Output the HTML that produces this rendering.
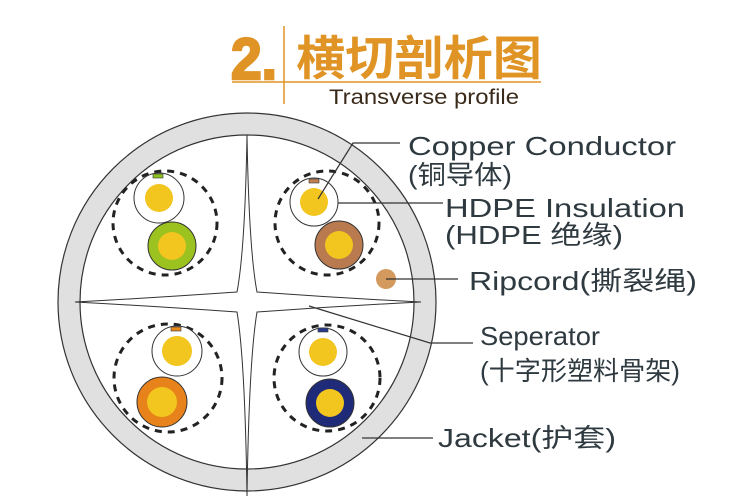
<!DOCTYPE html>
<html><head><meta charset="utf-8"><style>
html,body{margin:0;padding:0;background:#fff;}
svg{display:block;}
</style></head><body>
<svg width="738" height="504" viewBox="0 0 738 504" xmlns="http://www.w3.org/2000/svg">
<!-- title -->
<text x="231" y="79" font-family="Liberation Sans, sans-serif" font-weight="bold" font-size="58" fill="#e09426" stroke="#e09426" stroke-width="2.5" textLength="46" lengthAdjust="spacingAndGlyphs">2.</text>
<line x1="284" y1="26" x2="284" y2="104" stroke="#e09426" stroke-width="1.5"/>
<line x1="232" y1="82" x2="541" y2="82" stroke="#e09426" stroke-width="1.5"/>
<text x="296" y="75" font-family="Liberation Sans, 'Noto Sans CJK SC', sans-serif" font-weight="bold" font-size="47" fill="#e09426" textLength="246" lengthAdjust="spacingAndGlyphs">横切剖析图</text>
<text x="329" y="104" font-family="Liberation Sans, sans-serif" font-size="21" fill="#3a2a1a" textLength="190" lengthAdjust="spacingAndGlyphs">Transverse profile</text>

<!-- cable -->
<circle cx="247" cy="302" r="189" fill="#e0e0e0" stroke="#333" stroke-width="1.2"/>
<circle cx="247" cy="302" r="167" fill="#fff" stroke="#333" stroke-width="1.2"/>
<path d="M247,135 Q249,250 257,292 Q340,298 421,302 Q340,306 257,312 Q249,360 247,496 Q245,360 237,312 Q150,306 75,302 Q150,298 237,292 Q245,250 247,135 Z" fill="#fff" stroke="#333" stroke-width="1"/>

<!-- dashed shields -->
<g fill="none" stroke="#222" stroke-width="3" stroke-dasharray="7,6">
<circle cx="165" cy="223" r="52"/>
<circle cx="327" cy="223" r="52"/>
<circle cx="168" cy="378" r="54"/>
<circle cx="327" cy="378" r="53"/>
</g>

<!-- TL pair -->
<circle cx="159" cy="198" r="25" fill="#fff" stroke="#333"/>
<circle cx="159" cy="198" r="14" fill="#f2c51f"/>
<rect x="153" y="174" width="10" height="4" fill="#8dc21f" stroke="#333" stroke-width="0.6"/>
<circle cx="172" cy="246" r="24" fill="#9bc21f" stroke="#333"/>
<circle cx="172" cy="246" r="14" fill="#f2c51f"/>
<!-- TR pair -->
<circle cx="314" cy="202" r="24" fill="#fff" stroke="#333"/>
<circle cx="314" cy="202" r="14" fill="#f2c51f"/>
<rect x="309" y="179" width="10" height="4" fill="#c08050" stroke="#333" stroke-width="0.6"/>
<circle cx="339" cy="245" r="24" fill="#b87a4e" stroke="#333"/>
<circle cx="339" cy="245" r="14" fill="#f2c51f"/>
<!-- BL pair -->
<circle cx="177" cy="351" r="25" fill="#fff" stroke="#333"/>
<circle cx="177" cy="351" r="15" fill="#f2c51f"/>
<rect x="171" y="327" width="10" height="4" fill="#e8891a" stroke="#333" stroke-width="0.6"/>
<circle cx="162" cy="402" r="25" fill="#e8821a" stroke="#333"/>
<circle cx="162" cy="402" r="15" fill="#f2c51f"/>
<!-- BR pair -->
<circle cx="323" cy="352" r="24" fill="#fff" stroke="#333"/>
<circle cx="323" cy="352" r="14" fill="#f2c51f"/>
<rect x="318" y="328" width="10" height="4" fill="#2a3a8a" stroke="#333" stroke-width="0.6"/>
<circle cx="330" cy="403" r="24" fill="#1f2a78" stroke="#333"/>
<circle cx="330" cy="403" r="14" fill="#f2c51f"/>
<!-- ripcord -->
<circle cx="386" cy="279" r="10" fill="#d4995c"/>

<!-- leaders -->
<g stroke="#333" stroke-width="1.2" fill="none">
<polyline points="318,199 353,143 400,143"/>
<line x1="338" y1="203" x2="443" y2="203"/>
<line x1="386" y1="279" x2="458" y2="279"/>
<polyline points="309,306 430,343 473,343"/>
<line x1="362" y1="438" x2="433" y2="438"/>
</g>

<!-- labels -->
<g font-family="Liberation Sans, 'Noto Sans CJK SC', sans-serif" font-size="26" fill="#2e3a40">
<text x="408" y="155" textLength="268" lengthAdjust="spacingAndGlyphs">Copper Conductor</text>
<text x="408" y="184" textLength="104" lengthAdjust="spacingAndGlyphs">(铜导体)</text>
<text x="445" y="217" textLength="240" lengthAdjust="spacingAndGlyphs">HDPE Insulation</text>
<text x="445" y="244" textLength="178" lengthAdjust="spacingAndGlyphs">(HDPE 绝缘)</text>
<text x="469" y="290" textLength="228" lengthAdjust="spacingAndGlyphs">Ripcord(撕裂绳)</text>
<text x="480" y="345" textLength="120" lengthAdjust="spacingAndGlyphs">Seperator</text>
<text x="480" y="380" textLength="200" lengthAdjust="spacingAndGlyphs">(十字形塑料骨架)</text>
<text x="438" y="447" textLength="178" lengthAdjust="spacingAndGlyphs">Jacket(护套)</text>
</g>
</svg>
</body></html>
